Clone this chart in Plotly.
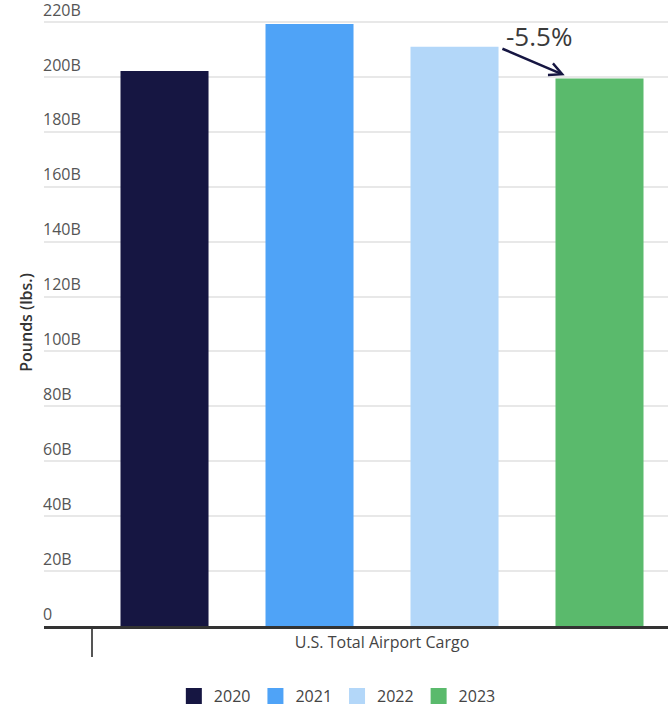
import plotly.graph_objects as go

# U.S. total airport cargo, billions of pounds
category = ["U.S. Total Airport Cargo"]
years = ["2020", "2021", "2022", "2023"]
cargo_billion_lbs = [202.2, 219.3, 211.0, 199.4]
colors = ["#161642", "#4fa3f7", "#b3d7f9", "#5aba6c"]

y_ticks = list(range(0, 221, 20))
y_tick_text = ["0"] + [f"{v}B" for v in y_ticks[1:]]

FONT = "Open Sans"

fig = go.Figure()
for yr, val, col in zip(years, cargo_billion_lbs, colors):
    fig.add_trace(go.Bar(
        name=yr, x=category, y=[val], showlegend=False,
        marker=dict(color=col, line=dict(width=0)),
    ))

# larger square swatches for the legend
for yr, col in zip(years, colors):
    fig.add_trace(go.Scatter(
        name=yr, x=[None], y=[None], mode="markers",
        marker=dict(symbol="square", size=16, color=col),
    ))

# year-over-year change annotation, 2022 -> 2023
change = (cargo_billion_lbs[3] / cargo_billion_lbs[2] - 1) * 100
x22, x23 = 0.125, 0.375  # group offsets of the last two bars
fig.add_annotation(
    x=x23 - 0.06, y=cargo_billion_lbs[3] + 1.2,
    ax=x22 + 0.08, ay=cargo_billion_lbs[2] - 0.5,
    xref="x", yref="y", axref="x", ayref="y",
    text="", showarrow=True, arrowhead=5, arrowsize=1.0,
    arrowwidth=2.5, arrowcolor="#161642",
)
fig.add_annotation(
    x=(x22 + x23) / 2 + 0.02, y=cargo_billion_lbs[2] + 4.0,
    xref="x", yref="y", text=f"{change:.1f}%", showarrow=False,
    font=dict(family=FONT, size=26, color="#3a3a3a"),
)

fig.update_layout(
    width=668, height=706,
    margin=dict(l=44, r=0, t=19, b=80),
    paper_bgcolor="white", plot_bgcolor="white",
    barmode="group", bargap=0.0, bargroupgap=0.393,
    font=dict(family=FONT, color="#555555"),
    showlegend=True,
    legend=dict(
        orientation="h", xref="container", x=0.505, xanchor="center",
        yref="container", y=0.014, yanchor="middle",
        font=dict(family=FONT, size=16, color="#444444"),
        itemclick=False, itemsizing="trace",
    ),
    xaxis=dict(
        range=[-0.5828, 0.4931],
        showline=True, linecolor="#333333", linewidth=2.5,
        ticks="outside", tickson="boundaries", ticklen=28,
        tickcolor="#555555", tickwidth=1.5,
        tickfont=dict(family=FONT, size=16, color="#444444"),
        showgrid=False, zeroline=False,
    ),
    yaxis=dict(
        range=[0, 221.1],
        tickvals=y_ticks, ticktext=y_tick_text,
        ticklabelposition="inside", ticklabelshift=-12, ticklabelstandoff=-4,
        ticklabeloverflow="allow",
        tickfont=dict(family=FONT, size=16, color="#555555"),
        showgrid=True, gridcolor="#e8e8e8", gridwidth=1.5,
        zeroline=False, showline=False, ticks="",
        title=dict(text="Pounds (lbs.)", standoff=6,
                   font=dict(family=FONT, size=16, color="#333333",
                             weight=600)),
    ),
)

fig.write_html("out.html")
